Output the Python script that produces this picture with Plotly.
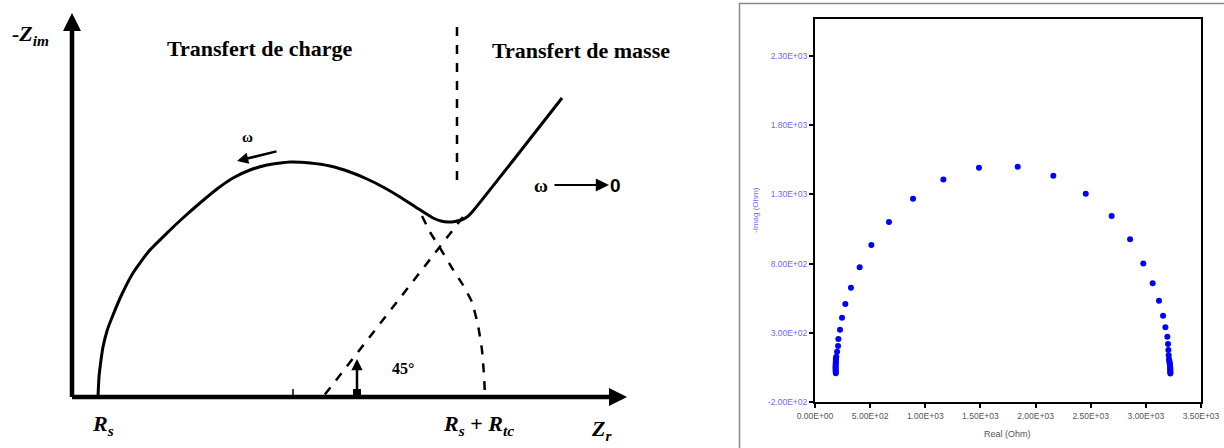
import plotly.graph_objects as go

# ---------------- Right panel: measured Nyquist data ----------------
real_ohm = [190, 189, 189, 188, 188, 187, 187, 187, 188, 188, 189,
            193, 200, 209, 212, 227, 245, 275, 326, 405, 511, 671, 889, 1164,
            1487, 1838, 2161, 2455, 2690, 2857, 2977, 3062, 3119, 3156, 3177,
            3195, 3201, 3204, 3207, 3210,
            3213, 3215, 3217, 3219, 3220, 3221, 3221, 3222, 3222, 3222]
imag_ohm = [118, 105, 93, 82, 70, 60, 50, 40, 30, 20, 10,
            129, 165, 206, 257, 324, 410, 509, 627, 774, 934, 1100, 1268, 1408,
            1492, 1499, 1434, 1304, 1144, 976, 802, 658, 533, 425, 341,
            273, 220, 177, 140, 111,
            98, 87, 76, 65, 55, 45, 35, 25, 16, 8]

x_tick_vals = [0, 500, 1000, 1500, 2000, 2500, 3000, 3500]
x_tick_text = ["0.00E+00", "5.00E+02", "1.00E+03", "1.50E+03", "2.00E+03",
               "2.50E+03", "3.00E+03", "3.50E+03"]
y_tick_vals = [-200, 300, 800, 1300, 1800, 2300]
y_tick_text = ["-2.00E+02", "3.00E+02", "8.00E+02", "1.30E+03", "1.80E+03", "2.30E+03"]

# ---------------- Left panel: schematic Nyquist diagram ----------------
# (Z_r, -Z_im) in arbitrary schematic units
curve_zr = [26, 27, 29, 31, 35, 41, 50, 61, 77, 95, 112, 128, 145, 161, 178, 195,
            218, 238, 258, 278, 295, 311, 328, 345, 361, 369, 376, 383, 389, 395, 401, 490]
curve_zim = [0, 20, 37, 50, 66, 82, 103, 124, 146, 164, 180, 194, 208, 219, 227, 232,
             235, 234, 231, 225, 218, 210, 200, 189, 179, 176, 175, 175.5, 177, 180, 186, 299]
tc_dash_zr = [350, 358, 368, 380, 391, 400, 406, 410, 412, 413]
tc_dash_zim = [181, 165, 149, 129, 112, 95, 72, 47, 22, 0]
diff_dash_zr = [391, 251]
diff_dash_zim = [180, 0]
boundary_zr = [385, 385]
boundary_zim = [370, 215]
minor_tick_zr = [221, 221]
minor_tick_zim = [0, 8]

SERIF = "Liberation Serif"
SANS = "Liberation Sans"

fig = go.Figure()

fig.add_trace(go.Scatter(x=curve_zr, y=curve_zim, mode="lines",
                         line=dict(color="black", width=3, shape="spline", smoothing=0.5),
                         xaxis="x2", yaxis="y2", hoverinfo="skip"))
fig.add_trace(go.Scatter(x=tc_dash_zr, y=tc_dash_zim, mode="lines",
                         line=dict(color="black", width=2.5, dash="dash", shape="spline", smoothing=0.3),
                         xaxis="x2", yaxis="y2", hoverinfo="skip"))
fig.add_trace(go.Scatter(x=diff_dash_zr, y=diff_dash_zim, mode="lines",
                         line=dict(color="black", width=2.5, dash="dash"),
                         xaxis="x2", yaxis="y2", hoverinfo="skip"))
fig.add_trace(go.Scatter(x=boundary_zr, y=boundary_zim, mode="lines",
                         line=dict(color="black", width=2.5, dash="dash"),
                         xaxis="x2", yaxis="y2", hoverinfo="skip"))
fig.add_trace(go.Scatter(x=minor_tick_zr, y=minor_tick_zim, mode="lines",
                         line=dict(color="black", width=1.5),
                         xaxis="x2", yaxis="y2", hoverinfo="skip"))
fig.add_trace(go.Scatter(x=[285], y=[4], mode="markers",
                         marker=dict(color="black", size=8, symbol="square"),
                         xaxis="x2", yaxis="y2", hoverinfo="skip"))

# measured data
fig.add_trace(go.Scatter(x=real_ohm, y=imag_ohm, mode="markers",
                         marker=dict(color="#0000ff", size=6, symbol="circle"),
                         xaxis="x", yaxis="y", hoverinfo="skip"))

annotations = []

def arrow(x, y, ax, ay, width, head=2, size=1.0):
    annotations.append(dict(x=x, y=y, ax=ax, ay=ay, xref="x2", yref="y2",
                            axref="x2", ayref="y2", text="", showarrow=True,
                            arrowhead=head, arrowsize=size, arrowwidth=width,
                            arrowcolor="black", standoff=0, startstandoff=0))

def label(x, y, text, size, ref="x2", yref="y2", color="black", family=SERIF, angle=0):
    annotations.append(dict(x=x, y=y, xref=ref, yref=yref, text=text, showarrow=False,
                            font=dict(family=family, size=size, color=color),
                            xanchor="center", yanchor="middle", textangle=angle))

# schematic axes
arrow(0, 384, 0, -1.5, 4.5, head=2, size=0.8)
arrow(555, 0, -1.5, 0, 4.5, head=2, size=0.8)
# omega arrows
arrow(165, 236, 206, 246, 2.5, head=2, size=0.9)
arrow(537, 212, 481, 212, 2.2, head=2, size=1.2)
# 45 degree marker
arrow(285, 38, 285, 4, 2.5, head=2, size=0.9)

label(-42, 362, "<b><i>-Z</i></b><sub><b><i>im</i></b></sub>", 22)
label(188, 349, "<b>Transfert de charge</b>", 22)
label(509, 347, "<b>Transfert de masse</b>", 22)
label(175, 260, "<b>ω</b>", 15)
label(469, 212, "<b>ω</b>", 19)
label(543, 212, "<b>0</b>", 19, family=SANS)
label(331, 29, "<b>45°</b>", 16)
label(31, -28, "<b><i>R</i></b><sub><b><i>s</i></b></sub>", 22)
label(406, -28, "<b><i>R</i></b><sub><b><i>s</i></b></sub><b> + <i>R</i></b><sub><b><i>tc</i></b></sub>", 22)
label(529, -33, "<b><i>Z</i></b><sub><b><i>r</i></b></sub>", 22)

# right panel axis titles
label(755 / 1224, (448 - 210) / 448, "-Imag (Ohm)", 8, ref="paper", yref="paper",
      color="#6a6aff", family=SANS, angle=-90)
label(1007 / 1224, (448 - 434) / 448, "Real (Ohm)", 9, ref="paper", yref="paper",
      color="#555555", family=SANS)

fig.update_layout(
    width=1224, height=448,
    margin=dict(l=0, r=0, t=0, b=0, pad=0, autoexpand=False),
    paper_bgcolor="white", plot_bgcolor="white",
    showlegend=False,
    annotations=annotations,
    xaxis=dict(domain=[815 / 1224, 1201 / 1224], range=[0, 3500],
               tickvals=x_tick_vals, ticktext=x_tick_text,
               showline=True, linecolor="black", linewidth=2, mirror=True,
               ticks="outside", ticklen=4, tickwidth=1.5, tickcolor="black",
               showgrid=False, zeroline=False, automargin=False,
               tickfont=dict(family=SANS, size=8.5, color="#555555")),
    yaxis=dict(domain=[(448 - 402.3) / 448, (448 - 19) / 448], range=[-200, 2565],
               tickvals=y_tick_vals, ticktext=y_tick_text,
               showline=True, linecolor="black", linewidth=2, mirror=True,
               ticks="outside", ticklen=4, tickwidth=1.5, tickcolor="black",
               showgrid=False, zeroline=False, automargin=False,
               tickfont=dict(family=SANS, size=8.5, color="#6a6aff")),
    xaxis2=dict(domain=[0, 700 / 1224], range=[-72, 628], visible=False, anchor="y2"),
    yaxis2=dict(domain=[0, 1], range=[-51, 397], visible=False, anchor="x2"),
    shapes=[dict(type="rect", xref="paper", yref="paper",
                 x0=739.5 / 1224, x1=1.01, y0=-0.02, y1=(448 - 3.5) / 448,
                 line=dict(color="#888888", width=1.5))],
)

fig.write_html("out.html",
               config={"displayModeBar": False},
               post_script="document.body.style.margin='0px';document.body.style.overflow='hidden';")
